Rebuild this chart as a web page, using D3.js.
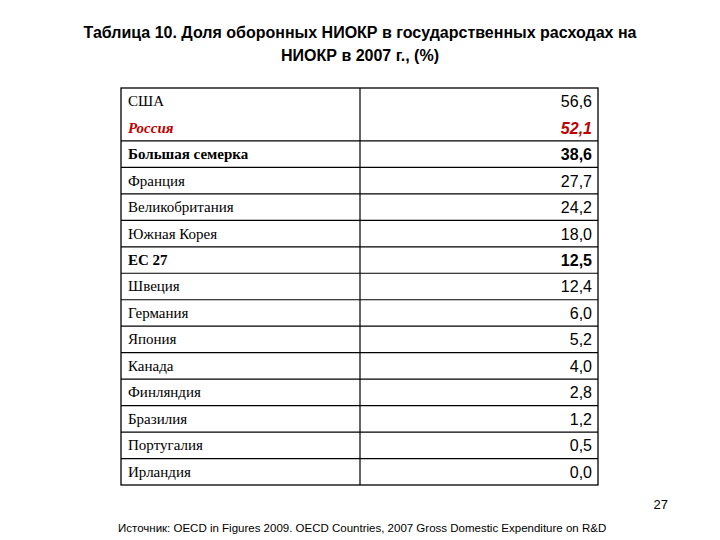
<!DOCTYPE html>
<html><head><meta charset="utf-8">
<script src="https://cdn.jsdelivr.net/npm/d3@7"></script>
<style>body{margin:0;background:#fff}</style>
</head><body><svg width="720" height="540"></svg>
<script>
var countries = ["США","Россия","Большая семерка","Франция","Великобритания","Южная Корея","ЕС 27","Швеция","Германия","Япония","Канада","Финляндия","Бразилия","Португалия","Ирландия"];
var values = [56.6,52.1,38.6,27.7,24.2,18.0,12.5,12.4,6.0,5.2,4.0,2.8,1.2,0.5,0.0];
var boldRows = ["Большая семерка","ЕС 27"];
var redRows = ["Россия"];

var svg = d3.select("svg"),
    tblLeft = 121, tblMid = 360, tblRight = 598, tblTop = 88, tblBottom = 485;

var y = d3.scaleBand().domain(countries).range([tblTop, tblBottom]);
var fmt = function(v){ return v.toFixed(1).replace(".", ","); };
var isBold = function(d){ return boldRows.indexOf(d) >= 0 || redRows.indexOf(d) >= 0; };
var isRed = function(d){ return redRows.indexOf(d) >= 0; };

svg.append("text").attr("x", 360).attr("y", 38).attr("text-anchor", "middle")
    .style("font", "bold 16px 'Liberation Sans', Arial").text("Таблица 10. Доля оборонных НИОКР в государственных расходах на");
svg.append("text").attr("x", 360).attr("y", 61).attr("text-anchor", "middle")
    .style("font", "bold 16px 'Liberation Sans', Arial").text("НИОКР в 2007 г., (%)");

var row = svg.selectAll("g.row").data(countries).enter().append("g")
    .attr("class", "row")
    .attr("transform", function(d){ return "translate(0," + y(d) + ")"; });

row.append("text").attr("x", tblLeft + 7).attr("y", y.bandwidth() / 2 + 5)
    .style("font-family", "'Liberation Serif', 'Times New Roman'")
    .style("font-size", "15px")
    .style("font-weight", function(d){ return isBold(d) ? "bold" : "normal"; })
    .style("font-style", function(d){ return isRed(d) ? "italic" : "normal"; })
    .attr("fill", function(d){ return isRed(d) ? "#c00000" : "#000"; })
    .text(function(d){ return d; });

row.append("text").attr("x", tblRight - 6).attr("y", y.bandwidth() / 2 + 6).attr("text-anchor", "end")
    .style("font-family", "'Liberation Sans', Arial")
    .style("font-size", "16px")
    .style("font-weight", function(d){ return isBold(d) ? "bold" : "normal"; })
    .style("font-style", function(d){ return isRed(d) ? "italic" : "normal"; })
    .attr("fill", function(d){ return isRed(d) ? "#c00000" : "#000"; })
    .text(function(d, i){ return fmt(values[i]); });

// horizontal lines (no line between США and Россия)
svg.selectAll("line.h").data(countries.slice(2)).enter().append("line")
    .attr("class", "h")
    .attr("x1", tblLeft).attr("x2", tblRight)
    .attr("y1", function(d){ return y(d); }).attr("y2", function(d){ return y(d); })
    .attr("stroke", "#000").attr("stroke-width", 1.2);
svg.append("rect").attr("x", tblLeft).attr("y", tblTop).attr("width", tblRight - tblLeft).attr("height", tblBottom - tblTop)
    .attr("fill", "none").attr("stroke", "#000").attr("stroke-width", 1.3);
svg.append("line").attr("x1", tblMid).attr("x2", tblMid).attr("y1", tblTop).attr("y2", tblBottom)
    .attr("stroke", "#000").attr("stroke-width", 1.2);

svg.append("text").attr("x", 668).attr("y", 509).attr("text-anchor", "end")
    .style("font", "13px 'Liberation Sans', Arial").text("27");
svg.append("text").attr("x", 118).attr("y", 532)
    .style("font", "11.5px 'Liberation Sans', Arial").text("Источник: OECD in Figures 2009. OECD Countries, 2007 Gross Domestic Expenditure on R&D");
</script></body></html>
